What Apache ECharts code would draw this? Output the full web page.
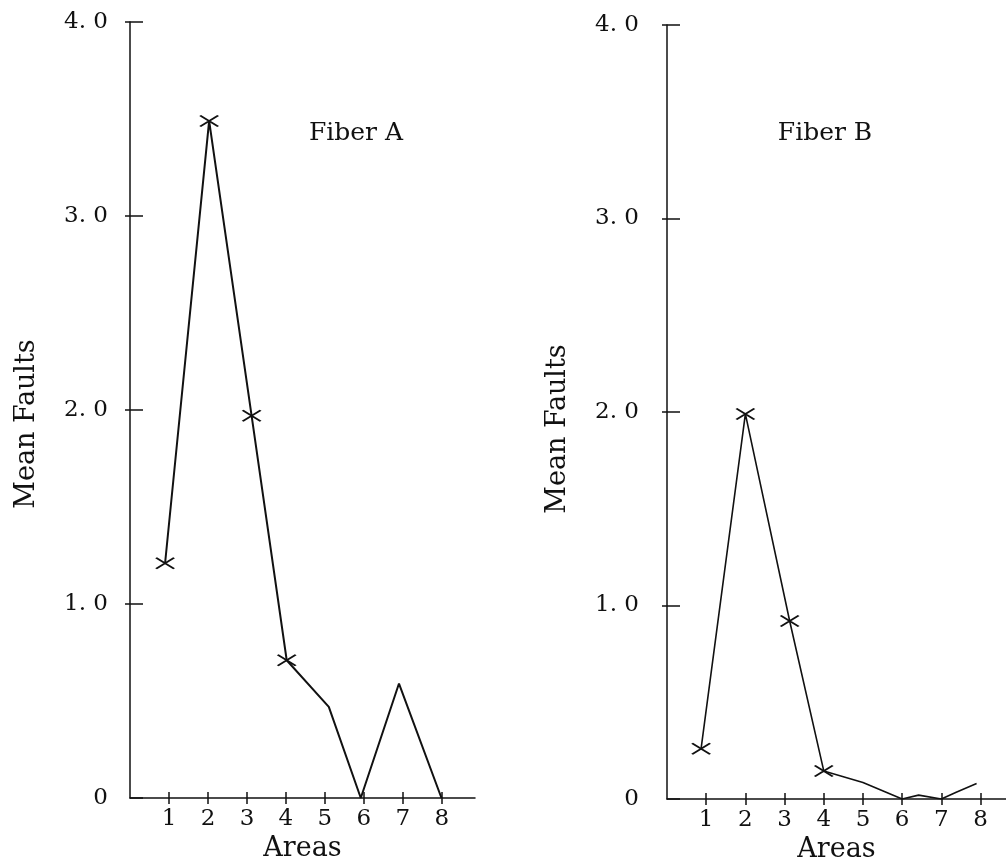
<!DOCTYPE html>
<html>
<head>
<meta charset="utf-8">
<script src="https://cdn.jsdelivr.net/npm/echarts@6/dist/echarts.min.js"></script>
<style>
html,body{margin:0;padding:0;background:#fff;}
#c{width:1006px;height:863px;}
</style>
</head>
<body>
<div id="c"></div>
<script>
// ---- data ----
const titles = ['Fiber A', 'Fiber B'];
const areasA  = [0.90, 2.03, 3.12, 4.02, 5.10, 5.92, 6.90, 7.99];
const faultsA = [1.21, 3.49, 1.97, 0.71, 0.47, 0.00, 0.59, 0.00];
const markedA = [true, true, true, true, false, false, false, false];
const areasB  = [0.87, 2.00, 3.13, 4.00, 5.00, 6.00, 6.42, 7.00, 7.38, 7.90];
const faultsB = [0.26, 1.99, 0.92, 0.145, 0.085, 0.00, 0.02, 0.00, 0.035, 0.08];
const markedB = [true, true, true, true, false, false, false, false, false, false];
const xTicks = [1, 2, 3, 4, 5, 6, 7, 8];
const yTicks = [1, 2, 3, 4];
const xName = 'Areas';
const yName = 'Mean Faults';

const FONT = 'DejaVu Serif';
const INK = '#111';
const crossPath = 'path://M0,0L18,11M0,11L18,0';

function yLabel(v) { return v === 0 ? '0' : v.toFixed(1).replace('.', '. '); }

function pts(xs, ys, marks) {
  return xs.map((x, i) => marks[i] ? [x, ys[i]] : { value: [x, ys[i]], symbol: 'none' });
}

const panels = [
  { grid: { left: 130, top: 22, width: 345, bottom: 65, outerBoundsMode: 'none', containLabel: false }, xMax: 8.85, yLabMargin: 22, yGap: 90, yPad: 28, lw: 2, tx: 351 },
  { grid: { left: 667, top: 25, right: 0, bottom: 64, outerBoundsMode: 'none', containLabel: false }, xMax: 8.65, yLabMargin: 28, yGap: 96, yPad: 34, lw: 1.6, tx: 820 }
];

const option = {
  animation: false,
  backgroundColor: '#fff',
  title: panels.map((p, i) => ({
    text: titles[i], left: p.tx, top: 116, textAlign: 'center',
    textStyle: { fontFamily: FONT, fontSize: 25, fontWeight: 'normal', color: INK }
  })),
  grid: panels.map(p => p.grid),
  xAxis: [],
  yAxis: [],
  series: []
};

panels.forEach((p, gi) => {
  option.xAxis.push({
    gridIndex: gi, type: 'value', min: 0, max: p.xMax, position: 'bottom',
    axisLine: { show: true, onZero: false, lineStyle: { color: INK, width: 1.5 } },
    axisTick: { show: true, customValues: xTicks, length: 6, lineStyle: { color: INK, width: 1.5 } },
    axisLabel: { customValues: xTicks, formatter: v => String(v), margin: 10, fontFamily: FONT, fontSize: 23, color: INK },
    splitLine: { show: false },
    name: xName, nameLocation: 'middle', nameGap: 33,
    nameTextStyle: { fontFamily: FONT, fontSize: 27, color: INK }
  });
  option.xAxis.push({
    gridIndex: gi, type: 'value', min: 0, max: p.xMax, position: 'bottom',
    axisLine: { show: false, onZero: false },
    axisTick: { show: true, inside: true, customValues: xTicks, length: 6, lineStyle: { color: INK, width: 1.5 } },
    axisLabel: { show: false },
    splitLine: { show: false }
  });
  option.yAxis.push({
    gridIndex: gi, type: 'value', min: 0, max: 4, interval: 1, position: 'left',
    axisLine: { show: true, onZero: false, lineStyle: { color: INK, width: 1.5 } },
    axisTick: { show: true, inside: true, length: 13, lineStyle: { color: INK, width: 1.5 } },
    axisLabel: { formatter: yLabel, margin: p.yLabMargin, fontFamily: FONT, fontSize: 23, color: INK },
    splitLine: { show: false },
    name: yName, nameLocation: 'middle', nameGap: p.yGap,
    nameTextStyle: { fontFamily: FONT, fontSize: 27, color: INK, padding: [0, p.yPad, 0, 0] }
  });
  option.yAxis.push({
    gridIndex: gi, type: 'value', min: 0, max: 4, position: 'left',
    axisLine: { show: false, onZero: false },
    axisTick: { show: true, customValues: yTicks, length: 5, lineStyle: { color: INK, width: 1.5 } },
    axisLabel: { show: false },
    splitLine: { show: false }
  });
});

[[areasA, faultsA, markedA], [areasB, faultsB, markedB]].forEach((d, gi) => {
  option.series.push({
    type: 'line', xAxisIndex: gi * 2, yAxisIndex: gi * 2,
    data: pts(d[0], d[1], d[2]),
    symbol: crossPath, symbolSize: [18, 11], showSymbol: true,
    lineStyle: { color: INK, width: panels[gi].lw },
    itemStyle: { color: 'rgba(0,0,0,0)', borderColor: INK, borderWidth: 2 },
    emphasis: { disabled: true },
    silent: true
  });
});

const chart = echarts.init(document.getElementById('c'), null, { renderer: 'canvas' });
chart.setOption(option);
</script>
</body>
</html>
